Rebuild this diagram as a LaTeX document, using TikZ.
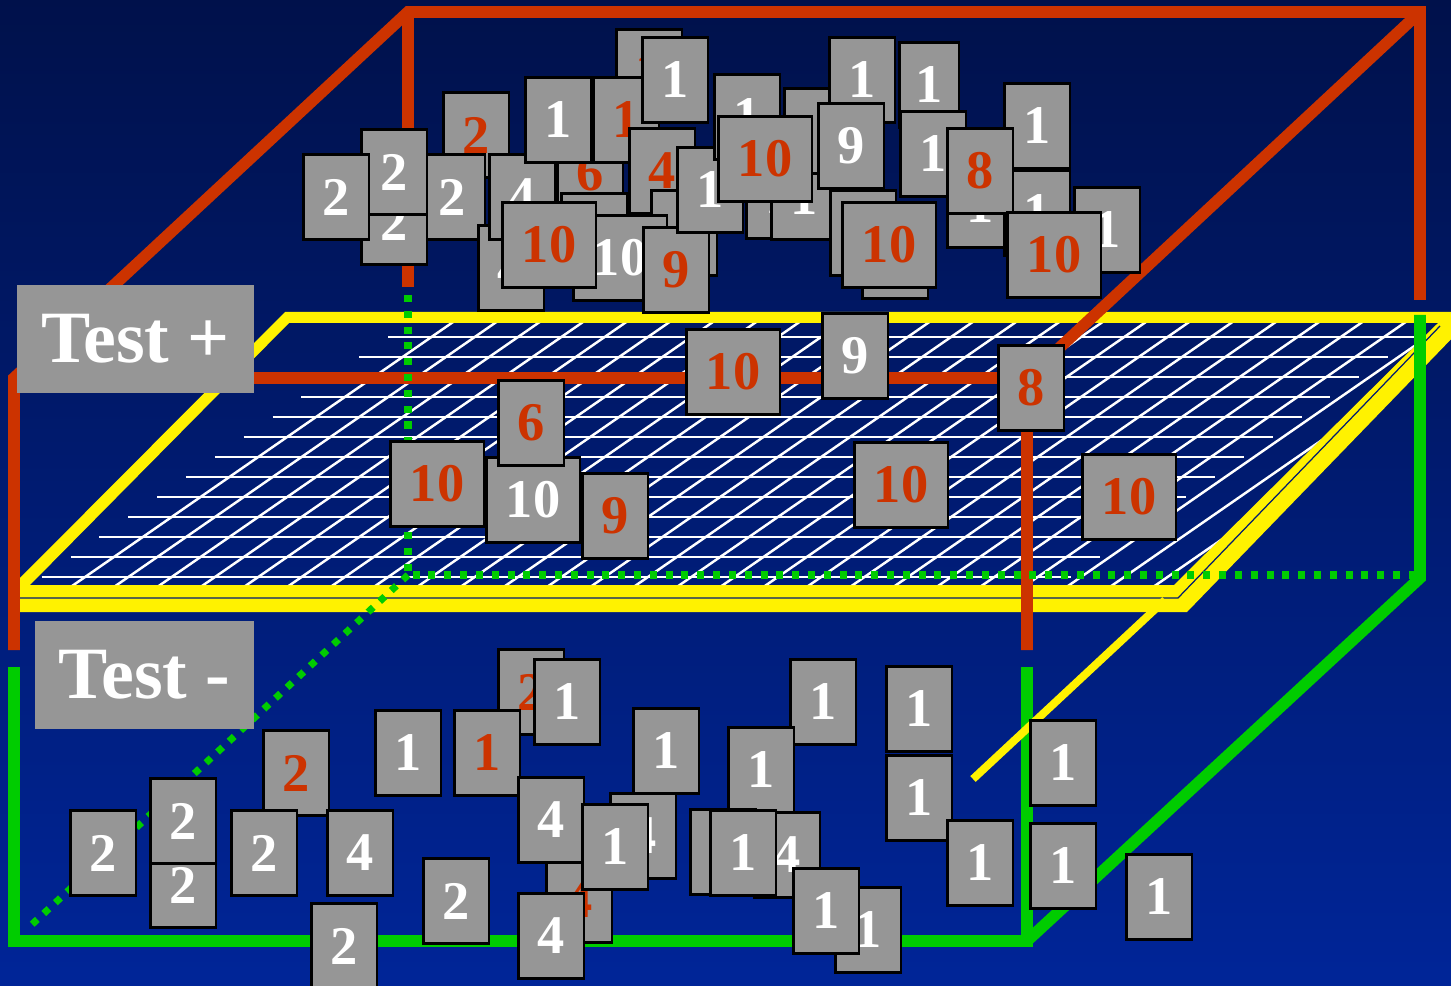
\documentclass[tikz,border=0pt]{standalone}
\usepackage{fontspec}
\setmainfont{Liberation Serif}

\definecolor{bgtop}{RGB}{0,17,75}
\definecolor{bgbot}{RGB}{0,37,152}
\definecolor{boxred}{RGB}{204,51,0}
\definecolor{boxgreen}{RGB}{0,204,0}
\definecolor{cardgray}{RGB}{150,150,150}

\tikzset{
  card/.style={draw=black,line width=1.7pt,fill=cardgray,minimum width=1.32cm,minimum height=1.70cm,inner sep=0pt,font=\fontsize{31}{31}\selectfont\bfseries},
  testlabel/.style={fill=cardgray,text=white,inner sep=0pt,minimum height=2.16cm,font=\fontsize{42}{42}\selectfont\bfseries},
  redline/.style={draw=boxred,line width=6.6pt},
  greenline/.style={draw=boxgreen,line width=6.6pt},
  greendots/.style={draw=boxgreen,line width=4pt,dash pattern=on 4pt off 5pt},
  gridline/.style={draw=white,line width=1.4pt}
}

\begin{document}
\begin{tikzpicture}[x=0.02cm,y=-0.02cm]
\useasboundingbox (0,0) rectangle (1451,986);
% background
\fill[top color=bgtop,bottom color=bgbot] (0,0) rectangle (1451,986);
% yellow slab (test threshold)
\fill[yellow,even odd rule] (18,612) -- (18,580) -- (285,312) -- (1460,312) -- (1460,330) -- (1187,612) -- cycle
  (30,585) -- (289,323) -- (1438,323) -- (1174,585) -- cycle;
\draw[bgtop!50!bgbot,line width=0.7pt] (18,598) -- (1178,598) -- (1440,326);
% grid on the slab
\begin{scope}
\clip (30,585) -- (289,323) -- (1438,323) -- (1174,585) -- cycle;
\foreach \k in {0,...,12} \draw[gridline] ({388-28.86*\k},{337+20*\k}) -- ++(1029,0);
\foreach \k in {1,...,27} \draw[gridline] ({417+43.3*\k},317) -- ++(-394,273);
\end{scope}
% red box: test positive
\draw[redline] (14,650) -- (14,378) -- (408,12) -- (1420,12) -- (1420,300);
\draw[redline] (408,12) -- (408,287);
\draw[redline] (14,378) -- (1027,378);
\draw[redline] (1420,12) -- (1027,378) -- (1027,650);
% green box: test negative
\draw[greenline] (14,667) -- (14,941) -- (1027,941) -- (1027,667);
\draw[greenline] (1027,941) -- (1420,578) -- (1420,315);
\draw[greendots] (408,295) -- (408,575) -- (1420,575);
\draw[greendots] (408,575) -- (26,930);
\draw[yellow,line width=4.5pt] (973,779) -- (1165,600);
% cards above the threshold
\foreach \x/\y/\w/\t/\c [count=\i] in {
  649/72/1.32/1/boxred, 476/135/1.32/2/boxred, 452/197/1.32/2/white, 394/222/1.32/2/white,
  394/172/1.32/2/white, 336/197/1.32/2/white, 590/173/1.32/6/boxred, 594/236/1.32//white,
  511/268/1.32/4/white, 522/197/1.32/4/white, 558/120/1.32/1/white, 626/120/1.32/1/boxred,
  675/80/1.32/1/white, 662/171/1.32/4/boxred, 684/233/1.32//white, 620/258/1.88/10/white,
  549/245/1.88/10/boxred, 676/270/1.32/9/boxred, 710/190/1.32/1/white, 747/117/1.32/1/white,
  779/196/1.32/1/white, 804/197/1.32/1/white, 817/131/1.32//white, 765/159/1.88/10/boxred,
  862/80/1.32/1/white, 851/146/1.32/9/white, 929/85/1.20/1/white, 933/154/1.32/1/white,
  980/205/1.32/1/white, 1037/126/1.32/1/white, 1037/213/1.32/1/white, 980/171/1.32/8/boxred,
  1107/230/1.32/1/white, 1054/255/1.88/10/boxred, 863/233/1.32//white, 895/256/1.32//white,
  889/245/1.88/10/boxred}
  \node[card,minimum width=\w cm,text=\c] (top\i) at (\x,\y) {\t};
% cards on the threshold
\foreach \x/\y/\w/\t/\c [count=\i] in {
  733/372/1.88/10/boxred, 855/356/1.32/9/white, 1031/388/1.32/8/boxred, 437/484/1.88/10/boxred,
  533/500/1.88/10/white, 531/423/1.32/6/boxred, 615/516/1.32/9/boxred, 901/485/1.88/10/boxred,
  1129/497/1.88/10/boxred}
  \node[card,minimum width=\w cm,text=\c] (mid\i) at (\x,\y) {\t};
% cards below the threshold
\foreach \x/\y/\w/\t/\c [count=\i] in {
  296/773/1.32/2/boxred, 264/853/1.32/2/white, 360/853/1.32/4/white, 183/885/1.32/2/white,
  183/821/1.32/2/white, 103/853/1.32/2/white, 344/946/1.32/2/white, 408/753/1.32/1/white,
  456/901/1.32/2/white, 531/692/1.32/2/boxred, 487/753/1.32/1/boxred, 567/702/1.32/1/white,
  579/900/1.32/4/boxred, 551/820/1.32/4/white, 643/836/1.32/4/white, 615/847/1.32/1/white,
  551/936/1.32/4/white, 666/751/1.32/1/white, 823/702/1.32/1/white, 761/770/1.32/1/white,
  723/852/1.32//white, 787/855/1.32/4/white, 743/853/1.32/1/white, 868/930/1.32/1/white,
  826/911/1.32/1/white, 919/709/1.32/1/white, 919/798/1.32/1/white, 980/863/1.32/1/white,
  1063/763/1.32/1/white, 1063/866/1.32/1/white, 1159/897/1.32/1/white}
  \node[card,minimum width=\w cm,text=\c] (low\i) at (\x,\y) {\t};
% labels
\node[testlabel,minimum width=4.74cm] (testpos) at (135.5,339) {Test +};
\node[testlabel,minimum width=4.38cm] (testneg) at (144.5,675) {Test -};
\end{tikzpicture}
\end{document}
